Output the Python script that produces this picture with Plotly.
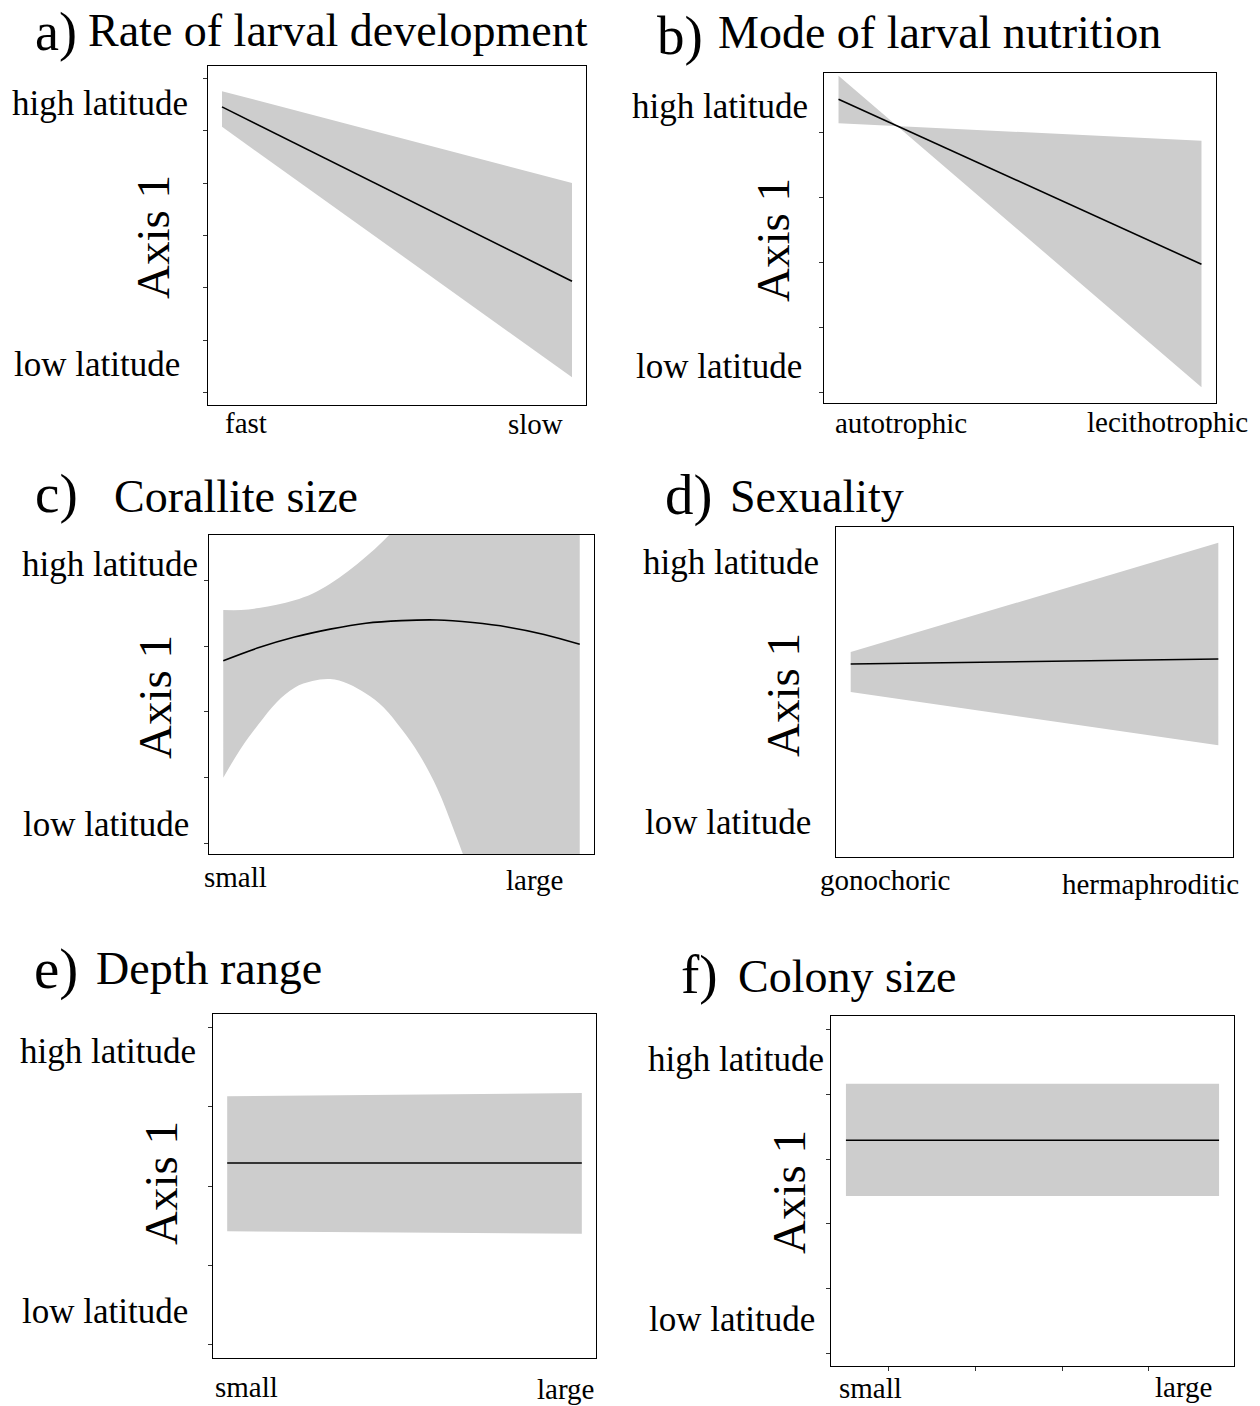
import plotly.graph_objects as go

W, H = 1260, 1406
FONT = "Liberation Serif, Times New Roman, serif"
BAND = "#cdcdcd"

# ---- values: fitted Axis 1 score and confidence bounds along each trait ----
# a) rate of larval development (fast -> slow)
a_x = [0, 1]
a_fit = [2.45, -0.87]
a_upper = [2.75, 1.00]
a_lower = [2.07, -2.70]

# b) mode of larval nutrition (autotrophic -> lecithotrophic); bounds cross
b_x = [0, 1]
b_fit = [2.52, -0.02]
b_bound1 = [2.88, -1.91]
b_bound2 = [2.15, 1.88]

# c) corallite size (small -> large), quadratic fit
c_x = [0, 0.1, 0.2, 0.3, 0.4, 0.5, 0.6, 0.7, 0.8, 0.9, 1.0]
c_fit = [0.78, 0.98, 1.14, 1.26, 1.35, 1.39, 1.40, 1.36, 1.29, 1.18, 1.03]
c_upper_x = [0, 0.05, 0.1, 0.15, 0.2, 0.25, 0.3, 0.35, 0.4, 0.45, 0.5, 0.55, 0.6, 0.7, 0.8, 0.9, 1.0]
c_upper = [1.55, 1.55, 1.58, 1.63, 1.70, 1.80, 1.95, 2.14, 2.36, 2.61, 2.89, 3.19, 3.51, 4.20, 4.95, 5.75, 6.60]
c_lower_x = [0, 0.05, 0.1, 0.15, 0.2, 0.25, 0.3, 0.35, 0.4, 0.45, 0.5,
             0.55, 0.6, 0.65, 0.7, 0.8, 0.9, 1.0]
c_lower = [-1.00, -0.55, -0.18, 0.15, 0.37, 0.47, 0.50, 0.43, 0.28, 0.07, -0.26,
           -0.65, -1.16, -1.84, -2.60, -4.50, -6.80, -9.50]

# d) sexuality (gonochoric -> hermaphroditic)
d_x = [0, 1]
d_fit = [5.85, 6.00]
d_upper = [6.21, 9.52]
d_lower = [5.00, 3.39]

# e) depth range (small -> large)
e_x = [0, 1]
e_fit = [0.29, 0.29]
e_upper = [1.13, 1.17]
e_lower = [-0.57, -0.60]

# f) colony size (small -> large)
f_x = [0, 1]
f_fit = [0.29, 0.29]
f_upper = [1.16, 1.16]
f_lower = [-0.57, -0.57]

# tick positions on the axes
a_yticks = [-3, -2, -1, 0, 1, 2, 3]
b_yticks = [-2, -1, 0, 1, 2]
c_yticks = [-2, -1, 0, 1, 2]
e_yticks = [-2, -1, 0, 1, 2]
f_yticks = [-3, -2, -1, 0, 1, 2]
f_xticks = [0.113, 0.347, 0.581, 0.812]

# panel text
letters = ["a)", "b)", "c)", "d)", "e)", "f)"]
titles = ["Rate of larval development", "Mode of larval nutrition", "Corallite size",
          "Sexuality", "Depth range", "Colony size"]
x_low_labels = ["fast", "autotrophic", "small", "gonochoric", "small", "small"]
x_high_labels = ["slow", "lecithotrophic", "large", "hermaphroditic", "large", "large"]
y_high_label = "high latitude"
y_low_label = "low latitude"
y_title = "Axis 1"

# ---- layout of each panel (pixel boxes: left, right, top, bottom) ----
panels = [
    dict(box=(208, 586, 66, 405), yr=(-3.229, 3.229), yt=a_yticks, xt=None,
         letter=(56, 32, 54), title=(86, 30, 46), hi=(100, 104), lo=(97, 364),
         ax=(153, 237), xl=((246, 423), (535, 424))),
    dict(box=(824, 1216, 73, 403), yr=(-2.154, 2.923), yt=b_yticks, xt=None,
         letter=(680, 35, 55), title=(716, 33, 46), hi=(720, 106), lo=(719, 366),
         ax=(773, 240), xl=((901, 423), (1167, 422))),
    dict(box=(209, 594, 535, 854), yr=(-2.160, 2.692), yt=c_yticks, xt=None,
         letter=(56, 494, 55), title=(112, 496, 46), hi=(110, 564), lo=(106, 824),
         ax=(155, 697), xl=((235, 877), (534, 880))),
    dict(box=(836, 1233, 527, 857), yr=(0, 10), yt=None, xt=None,
         letter=(689, 495, 57), title=(728, 496, 46), hi=(731, 562), lo=(728, 822),
         ax=(783, 695), xl=((885, 880), (1150, 884))),
    dict(box=(213, 596, 1014, 1358), yr=(-2.164, 2.164), yt=e_yticks, xt=None,
         letter=(56, 969, 57), title=(94, 969, 46), hi=(108, 1051), lo=(105, 1311),
         ax=(161, 1183), xl=((246, 1387), (565, 1389))),
    dict(box=(831, 1234, 1016, 1366), yr=(-3.194, 2.207), yt=f_yticks, xt=f_xticks,
         letter=(699, 974, 55), title=(736, 976, 46), hi=(736, 1059), lo=(732, 1319),
         ax=(789, 1192), xl=((870, 1388), (1183, 1387))),
]

series = [
    (a_x, a_lower, a_x, a_upper, a_x, a_fit),
    (b_x, b_bound1, b_x, b_bound2, b_x, b_fit),
    (c_lower_x, c_lower, c_upper_x, c_upper, c_x, c_fit),
    (d_x, d_lower, d_x, d_upper, d_x, d_fit),
    (e_x, e_lower, e_x, e_upper, e_x, e_fit),
    (f_x, f_lower, f_x, f_upper, f_x, f_fit),
]

fig = go.Figure()
layout = dict(width=W, height=H, margin=dict(l=0, r=0, t=0, b=0),
              paper_bgcolor="white", plot_bgcolor="white", showlegend=False)
annotations = []


def note(text, px, py, size, angle=0, anchor="center"):
    annotations.append(dict(text=text, x=px / W, y=1 - py / H, xref="paper", yref="paper",
                            xanchor=anchor, yanchor="middle", showarrow=False,
                            textangle=angle, font=dict(family=FONT, size=size, color="black")))


for i, (p, s) in enumerate(zip(panels, series), start=1):
    xs = "" if i == 1 else str(i)
    lx, ly, ux, uy, fx, fy = s
    shape = "spline" if len(fx) > 2 else "linear"
    fig.add_trace(go.Scatter(x=lx, y=ly, mode="lines", line=dict(width=0, color=BAND, shape=shape),
                             xaxis="x" + xs, yaxis="y" + xs, hoverinfo="skip"))
    fig.add_trace(go.Scatter(x=ux, y=uy, mode="lines", line=dict(width=0, color=BAND, shape=shape),
                             fill="tonexty", fillcolor=BAND,
                             xaxis="x" + xs, yaxis="y" + xs, hoverinfo="skip"))
    fig.add_trace(go.Scatter(x=fx, y=fy, mode="lines", line=dict(width=1.6, color="black", shape=shape),
                             xaxis="x" + xs, yaxis="y" + xs))

    left, right, top, bottom = p["box"]
    layout["xaxis" + xs] = dict(
        domain=[left / W, right / W], range=[-0.04, 1.04], anchor="y" + xs,
        showline=True, mirror=True, linecolor="black", linewidth=1,
        showgrid=False, zeroline=False, showticklabels=False,
        ticks="outside" if p["xt"] else "", tickvals=p["xt"] or [],
        ticklen=4, tickcolor="#333", tickwidth=1)
    layout["yaxis" + xs] = dict(
        domain=[1 - bottom / H, 1 - top / H], range=list(p["yr"]), anchor="x" + xs,
        showline=True, mirror=True, linecolor="black", linewidth=1,
        showgrid=False, zeroline=False, showticklabels=False,
        ticks="outside" if p["yt"] else "", tickvals=p["yt"] or [],
        ticklen=4, tickcolor="#333", tickwidth=1)

    k = i - 1
    note(letters[k], *p["letter"])
    note(titles[k], *p["title"], anchor="left")
    note(y_high_label, *p["hi"], 35)
    note(y_low_label, *p["lo"], 35)
    note(y_title, *p["ax"], 47, angle=-90)
    (lx0, ly0), (lx1, ly1) = p["xl"]
    note(x_low_labels[k], lx0, ly0, 29)
    note(x_high_labels[k], lx1, ly1, 29)

layout["annotations"] = annotations
fig.update_layout(**layout)
fig.write_html("out.html")
